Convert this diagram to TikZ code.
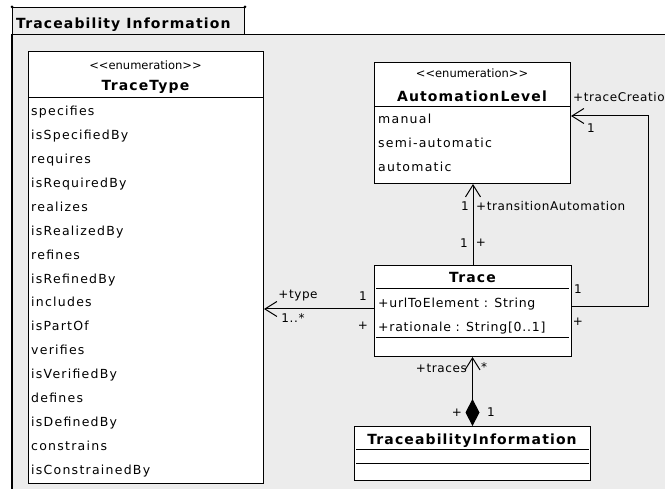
\documentclass[tikz,border=0pt]{standalone}
\usepackage{fontspec}
\setmainfont{DejaVu Sans}
\newfontfamily\itemfont[LetterSpace=10]{DejaVu Sans}
\newfontfamily\attrfont[LetterSpace=6]{DejaVu Sans}
\newfontfamily\namefont[LetterSpace=8]{DejaVu Sans}
\newfontfamily\labelfont[LetterSpace=5]{DejaVu Sans}
\usetikzlibrary{arrows.meta,calc}
\definecolor{pkgfill}{RGB}{236,236,236}
\newcommand{\stereotxt}{<\kern0pt<enumeration>\kern0pt>}
\tikzset{
  pkgshape/.style={draw=black, fill=pkgfill, line width=1pt, rectangle, inner sep=0, anchor=north west},
  umlbox/.style={draw=black, fill=white, line width=1pt, rectangle, inner sep=0, anchor=north west},
  sepline/.style={line width=1pt},
  item/.style={anchor=base west, inner sep=0, font=\itemfont\fontsize{12.5}{15}\selectfont},
  attr/.style={anchor=base west, inner sep=0, font=\attrfont\fontsize{12.5}{15}\selectfont},
  lbl/.style={inner sep=0, font=\labelfont\fontsize{12}{14}\selectfont},
  bname/.style={inner sep=0, font=\namefont\bfseries\fontsize{14}{16}\selectfont},
  stereo/.style={inner sep=0, anchor=base, font=\fontsize{11.5}{13}\selectfont},
  assoc/.style={line width=1pt, -{Straight Barb[length=12pt,width=15pt]}},
  comp/.style={line width=1pt, {Diamond[length=27pt,width=14pt]}-{Straight Barb[length=12pt,width=15pt]}}
}
\begin{document}
\begin{tikzpicture}[x=1pt,y=-1pt]
\useasboundingbox (0,0) rectangle (665,489);
\clip (0,0) rectangle (665,489);
\fill[white] (0,0) rectangle (665,489);
% package
\node[pkgshape, minimum width=232pt, minimum height=27pt] (tab) at (12,7) {};
\node[pkgshape, minimum width=680pt, minimum height=480pt] (body) at (12,34) {};
\draw[line width=2pt] (body.north west) -- (body.south west);
\fill (tab.north west) circle (1.5);
\fill (tab.north east) circle (1.5);
\node[bname, anchor=base west] (title) at (16,29) {Traceability Information};

% TraceType
\node[umlbox, minimum width=235pt, minimum height=432pt] (tt) at (28,51) {};
\node[stereo] (ttst) at (145.5,70) {\stereotxt};
\node[bname, anchor=base] (ttname) at (145.5,91) {TraceType};
\draw[sepline] (tt.west |- 0,98) -- (tt.east |- 0,98);
\foreach \t [count=\i] in {specifies,isSpecifiedBy,requires,isRequiredBy,realizes,isRealizedBy,refines,isRefinedBy,includes,isPartOf,verifies,isVerifiedBy,defines,isDefinedBy,constrains,isConstrainedBy}
  \node[item] (tt\i) at ({31},{116+23.87*(\i-1)}) {\t};

% AutomationLevel
\node[umlbox, minimum width=196pt, minimum height=121pt] (al) at (374,62) {};
\node[stereo] (alst) at (472,78) {\stereotxt};
\node[bname, anchor=base] (alname) at (472,102) {AutomationLevel};
\draw[sepline] (al.west |- 0,107) -- (al.east |- 0,107);
\node[item] (al1) at (378,124) {manual};
\node[item] (al2) at (378,148) {semi-automatic};
\node[item] (al3) at (378,172) {automatic};

% Trace
\node[umlbox, minimum width=197pt, minimum height=91pt] (trace) at (374,265) {};
\node[bname, anchor=base] (trname) at (472.5,283) {Trace};
\draw[sepline] ($(trace.north west)+(2,24)$) -- ($(trace.north east)+(-3,24)$);
\draw[sepline] ($(trace.north west)+(2,73)$) -- ($(trace.north east)+(-3,73)$);
\node[attr] (tra1) at (378,308) {+urlToElement : String};
\node[attr] (tra2) at (378,332) {+rationale : String[0..1]};

% TraceabilityInformation
\node[umlbox, minimum width=236pt, minimum height=54pt] (ti) at (354,426) {};
\node[bname, anchor=base] (tiname) at (472,445) {TraceabilityInformation};
\draw[sepline] ($(ti.north west)+(2,24)$) -- ($(ti.north east)+(-2,24)$);
\draw[sepline] ($(ti.north west)+(2,38)$) -- ($(ti.north east)+(-2,38)$);

% connectors
\coordinate (trw) at ($(trace.north west)+(0,44)$);
\draw[assoc] (trw) -- (trw -| tt.east);
\draw[assoc] (trace.north) -- (trace.north |- al.south);
\coordinate (loopout) at ($(trace.north east)+(0,42)$);
\coordinate (loopin) at ($(al.north east)+(0,54)$);
\draw[assoc] (loopout) -- ++(76,0) |- (loopin);
\draw[comp] (ti.north) -- (ti.north |- trace.south);

% labels
\node[lbl] (l1) at (298,296) {+type};
\node[lbl] (l2) at (293,318) {1..*};
\node[lbl] (l3) at (363,296) {1};
\node[lbl] (l4) at (363,326) {+};
\node[lbl] (l5) at (465,206) {1};
\node[lbl, anchor=west] (l6) at (476,206) {+transitionAutomation};
\node[lbl] (l7) at (464,243) {1};
\node[lbl] (l8) at (481,243) {+};
\node[lbl, anchor=west] (l9) at (573,97) {+traceCreatio};
\node[lbl] (l10) at (591,128) {1};
\node[lbl] (l11) at (578,289) {1};
\node[lbl] (l12) at (578,322) {+};
\node[lbl, anchor=east] (l13) at (467,368) {+traces};
\node[lbl] (l14) at (484,367) {*};
\node[lbl] (l15) at (457,413) {+};
\node[lbl] (l16) at (491,412) {1};
\end{tikzpicture}
\end{document}
